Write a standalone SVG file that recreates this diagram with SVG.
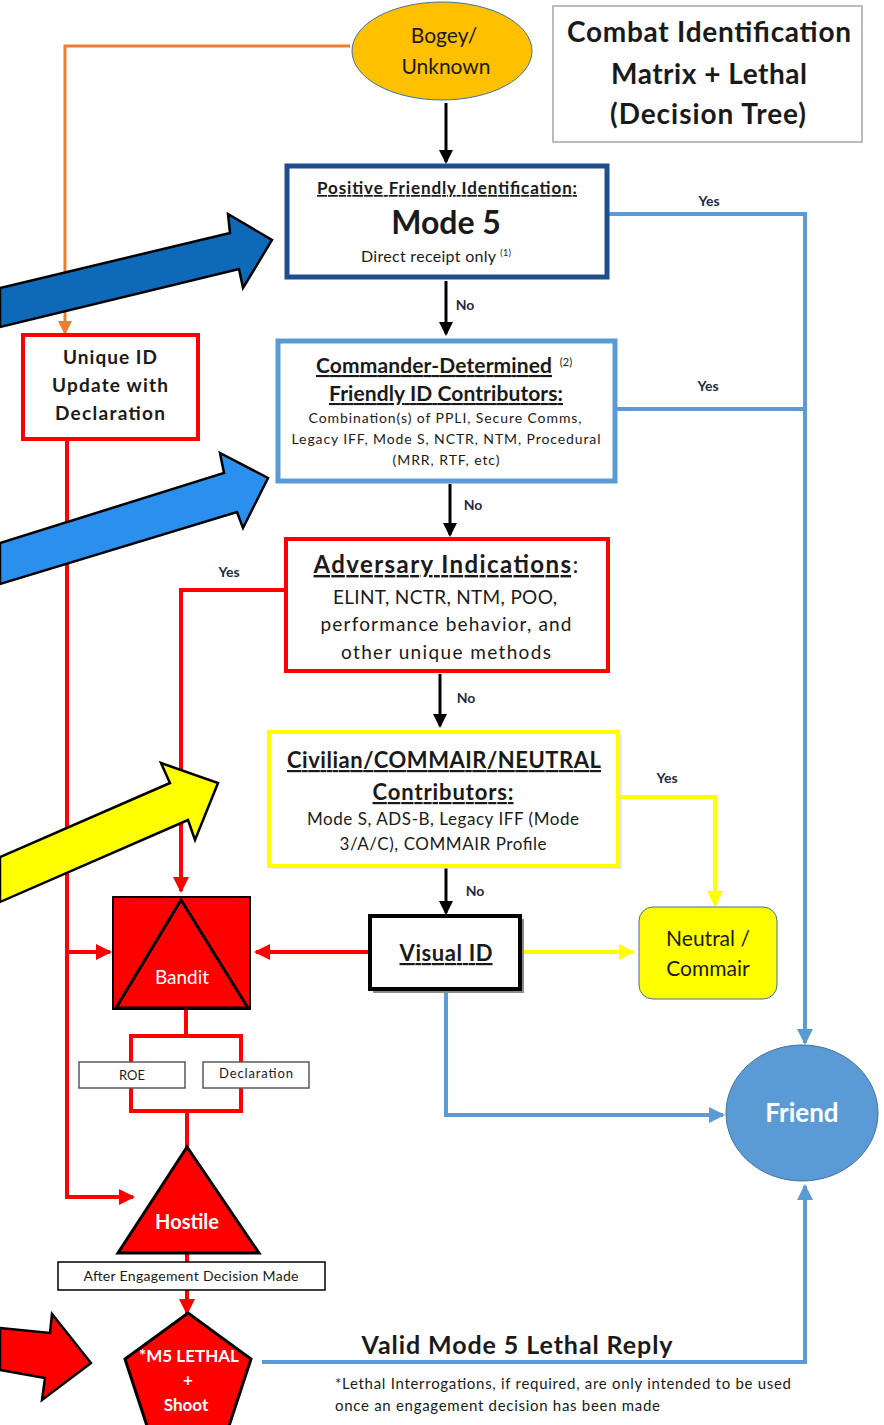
<svg xmlns="http://www.w3.org/2000/svg" width="884" height="1425" viewBox="0 0 884 1425">
<style>
text{font-family:Lato,"Open Sans","Liberation Sans",sans-serif;fill:#1a1a1a;text-anchor:middle}
.b{font-weight:bold}
.u{text-decoration:underline}
.w{fill:#fff}
.lbl{font-size:14px;font-weight:bold;fill:#1f2a44}
.cb{fill:none;stroke:#000;stroke-width:3}
.cbl{fill:none;stroke:#5B9BD5;stroke-width:4}
.cr{fill:none;stroke:#FF0000;stroke-width:4}
.cy{fill:none;stroke:#FFFF00;stroke-width:4}
.co{fill:none;stroke:#ED7D31;stroke-width:3}
.big{stroke:#000;stroke-width:2.5;stroke-linejoin:miter}
</style>
<defs>
<marker id="ab" markerUnits="userSpaceOnUse" markerWidth="14" markerHeight="14" refX="12" refY="7" orient="auto"><path d="M0,0 L14,7 L0,14 Z" fill="#000"/></marker>
<marker id="abl" markerUnits="userSpaceOnUse" markerWidth="16" markerHeight="16" refX="14" refY="8" orient="auto"><path d="M0,0 L16,8 L0,16 Z" fill="#5B9BD5"/></marker>
<marker id="ar" markerUnits="userSpaceOnUse" markerWidth="16" markerHeight="16" refX="14" refY="8" orient="auto"><path d="M0,0 L16,8 L0,16 Z" fill="#FF0000"/></marker>
<marker id="ay" markerUnits="userSpaceOnUse" markerWidth="16" markerHeight="16" refX="14" refY="8" orient="auto"><path d="M0,0 L16,8 L0,16 Z" fill="#FFFF00"/></marker>
<marker id="ao" markerUnits="userSpaceOnUse" markerWidth="14" markerHeight="14" refX="12" refY="7" orient="auto"><path d="M0,0 L14,7 L0,14 Z" fill="#ED7D31"/></marker>
</defs>
<rect width="884" height="1425" fill="#fff"/>

<g id="connectors">
<path class="co" d="M350,46 H65 V333" marker-end="url(#ao)"/>
<path class="cb" d="M446,103 V162" marker-end="url(#ab)"/>
<path class="cbl" d="M607,214 H805 V1043" marker-end="url(#abl)"/>
<path class="cbl" d="M616,409 H805"/>
<path class="cb" d="M446,281 V334" marker-end="url(#ab)"/>
<path class="cb" d="M450,484 V535" marker-end="url(#ab)"/>
<path class="cr" d="M285,590 H181 V891" marker-end="url(#ar)"/>
<path class="cb" d="M440,674 V726" marker-end="url(#ab)"/>
<path class="cy" d="M618,797 H715 V905" marker-end="url(#ay)"/>
<path class="cb" d="M446,868 V913" marker-end="url(#ab)"/>
<path class="cr" d="M369,952 H256" marker-end="url(#ar)"/>
<path class="cy" d="M521,952 H633" marker-end="url(#ay)"/>
<path class="cbl" d="M446,990 V1115 H723" marker-end="url(#abl)"/>
<path class="cr" d="M67,440 V1197 H133" marker-end="url(#ar)"/>
<path class="cr" d="M67,952 H110" marker-end="url(#ar)"/>
<path class="cr" d="M186,1010 V1036"/>
<path class="cr" d="M131,1036 H241 V1111 H131 Z"/>
<path class="cr" d="M187,1111 V1147"/>
<path class="cr" d="M187,1253 V1262"/>
<path class="cr" d="M187,1290 V1313" marker-end="url(#ar)"/>
<path class="cbl" d="M262,1362 H805 V1186" marker-end="url(#abl)"/>
</g>

<g id="labels">
<text class="lbl" x="709" y="206">Yes</text>
<text class="lbl" x="465" y="310">No</text>
<text class="lbl" x="708" y="391">Yes</text>
<text class="lbl" x="473" y="510">No</text>
<text class="lbl" x="229" y="577">Yes</text>
<text class="lbl" x="466" y="703">No</text>
<text class="lbl" x="667" y="783">Yes</text>
<text class="lbl" x="475" y="896">No</text>
</g>

<g id="bogey">
<ellipse cx="442" cy="51" rx="90" ry="49" fill="#FFC000" stroke="#41719C" stroke-width="1"/>
<text x="444" y="43" font-size="21">Bogey/</text>
<text x="446" y="74" font-size="21">Unknown</text>
</g>

<g id="title">
<rect x="553" y="6" width="309" height="136" fill="#fff" stroke="#A6A6A6" stroke-width="1.5"/>
<text class="b" x="709" y="42" font-size="28" textLength="284">Combat Identification</text>
<text class="b" x="709" y="84" font-size="28" textLength="196">Matrix + Lethal</text>
<text class="b" x="708" y="124" font-size="28" textLength="196">(Decision Tree)</text>
</g>

<g id="mode5">
<rect x="287" y="166" width="320" height="111" fill="#fff" stroke="#1F4E8C" stroke-width="5"/>
<text class="b u" x="447" y="194" font-size="17" textLength="260">Positive Friendly Identification:</text>
<text class="b" x="446" y="234" font-size="32">Mode 5</text>
<text x="436" y="262" font-size="16" textLength="150">Direct receipt only <tspan font-size="9" dy="-6">(1)</tspan></text>
</g>

<g id="commander">
<rect x="278" y="341" width="337" height="140" fill="#fff" stroke="#5B9BD5" stroke-width="5"/>
<text class="b u" x="434" y="373" font-size="21" textLength="236">Commander-Determined</text>
<text x="566" y="366" font-size="11">(2)</text>
<text class="b u" x="446" y="401" font-size="21" textLength="234">Friendly ID Contributors:</text>
<text x="445" y="423" font-size="14" textLength="273">Combination(s) of PPLI, Secure Comms,</text>
<text x="446" y="444" font-size="14" textLength="309">Legacy IFF, Mode S, NCTR,  NTM, Procedural</text>
<text x="446" y="465" font-size="14" textLength="107">(MRR, RTF, etc)</text>
</g>

<g id="adversary">
<rect x="286" y="539" width="322" height="132" fill="#fff" stroke="#FF0000" stroke-width="4"/>
<text x="446" y="573" font-size="24" textLength="265"><tspan class="b u">Adversary Indications</tspan>:</text>
<text x="445" y="604" font-size="19" textLength="224">ELINT, NCTR, NTM, POO,</text>
<text x="446" y="631" font-size="19" textLength="251">performance behavior, and</text>
<text x="446" y="659" font-size="19" textLength="210">other unique methods</text>
</g>

<g id="civilian">
<rect x="272" y="735" width="350" height="134" fill="#d9d9d9" opacity="0.6"/>
<rect x="269" y="732" width="349" height="134" fill="#fff" stroke="#FFFF00" stroke-width="4"/>
<text class="b u" x="444" y="768" font-size="22" textLength="314">Civilian/COMMAIR/NEUTRAL</text>
<text class="b u" x="443" y="800" font-size="22" textLength="141">Contributors:</text>
<text x="443" y="825" font-size="17" textLength="272">Mode S, ADS-B, Legacy IFF (Mode</text>
<text x="443" y="850" font-size="17" textLength="207">3/A/C), COMMAIR Profile</text>
</g>

<g id="unique">
<rect x="23" y="335" width="175" height="104" fill="#fff" stroke="#FF0000" stroke-width="4"/>
<text class="b" x="110" y="364" font-size="19" textLength="94">Unique ID</text>
<text class="b" x="110" y="392" font-size="19" textLength="116">Update with</text>
<text class="b" x="110" y="420" font-size="19" textLength="110">Declaration</text>
</g>

<g id="visual">
<rect x="373" y="919" width="151" height="74" fill="#8c8c8c"/>
<rect x="370" y="916" width="150" height="73" fill="#fff" stroke="#000" stroke-width="4"/>
<text class="b u" x="446" y="961" font-size="22" textLength="93">Visual ID</text>
</g>

<g id="bandit">
<rect x="113" y="897" width="137" height="112" fill="#FF0000" stroke="#000" stroke-width="2"/>
<polygon points="181,900 116,1008 248,1008" fill="#FF0000" stroke="#000" stroke-width="3"/>
<text class="w" x="182" y="984" font-size="19">Bandit</text>
</g>

<g id="neutral">
<rect x="639" y="907" width="138" height="92" rx="14" fill="#FFFF00" stroke="#41719C" stroke-width="1"/>
<text x="708" y="946" font-size="21">Neutral /</text>
<text x="708" y="976" font-size="21">Commair</text>
</g>

<g id="friend">
<ellipse cx="802" cy="1113" rx="76" ry="68" fill="#5B9BD5" stroke="#41719C" stroke-width="1"/>
<text class="b w" x="802" y="1122" font-size="26">Friend</text>
</g>

<g id="roe">
<rect x="79" y="1062" width="106" height="26" fill="#fff" stroke="#595959" stroke-width="1.5"/>
<text x="132" y="1080" font-size="13">ROE</text>
</g>
<g id="declaration">
<rect x="203" y="1062" width="106" height="26" fill="#fff" stroke="#595959" stroke-width="1.5"/>
<text x="256" y="1078" font-size="13" textLength="74">Declaration</text>
</g>

<g id="hostile">
<polygon points="187,1147 118,1253 259,1253" fill="#FF0000" stroke="#000" stroke-width="3"/>
<text class="b w" x="187" y="1229" font-size="20">Hostile</text>
</g>

<g id="after">
<rect x="58" y="1262" width="267" height="28" fill="#fff" stroke="#000" stroke-width="1.5"/>
<text x="191" y="1281" font-size="14" textLength="215">After Engagement Decision Made</text>
</g>

<g id="lethal">
<polygon points="188,1313 251,1359 227,1432 149,1432 125,1359" fill="#FF0000" stroke="#000" stroke-width="3"/>
<text class="b w" x="189" y="1362" font-size="17">*M5 LETHAL</text>
<text class="b w" x="188" y="1386" font-size="17">+</text>
<text class="b w" x="186" y="1411" font-size="17">Shoot</text>
</g>

<g id="lethal-label">
<text class="b" x="517" y="1354" font-size="25" textLength="311">Valid Mode 5 Lethal Reply</text>
<text x="335" y="1389" font-size="15" style="text-anchor:start" textLength="456">*Lethal Interrogations, if required, are only intended to be used</text>
<text x="335" y="1411" font-size="15" style="text-anchor:start" textLength="325">once an engagement decision has been made</text>
</g>

<g id="arrow-dark-blue">
<polygon class="big" points="0,288 230,233 228,214 272,240 243,288 239,269 0,327" fill="#0E6AB8"/>
</g>
<g id="arrow-light-blue">
<polygon class="big" points="0,543 224,473 220,453 268,478 243,528 237,512 0,584" fill="#2B8FEE"/>
</g>
<g id="arrow-yellow">
<polygon class="big" points="0,857 170,783 161,763 218,783 195,840 188,820 0,902" fill="#FFFF00"/>
</g>
<g id="arrow-red">
<polygon class="big" points="0,1328 50,1333 52,1314 91,1363 42,1400 45,1378 0,1370" fill="#FF0000"/>
</g>
</svg>
